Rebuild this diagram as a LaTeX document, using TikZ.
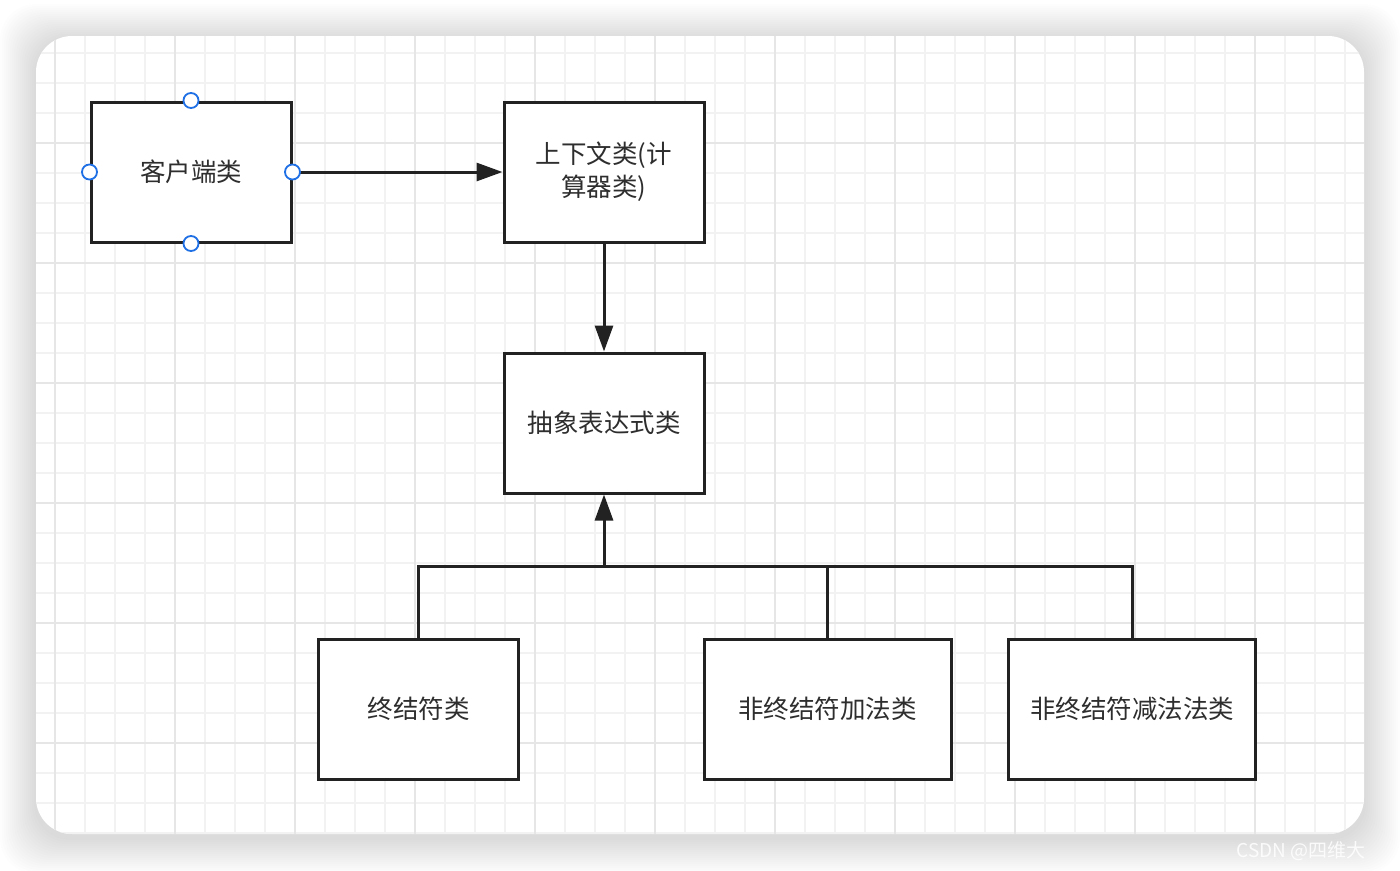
\documentclass[tikz,border=0pt]{standalone}
\usepackage{fontspec}
\usepackage{tikz}
\usetikzlibrary{arrows.meta,positioning}
\newfontfamily\cjk{Noto Sans CJK SC}
\definecolor{KInk}{HTML}{222222}
\definecolor{KText}{HTML}{2E2E2E}
\definecolor{KGrid}{HTML}{F2F2F2}
\definecolor{KGridMajor}{HTML}{E6E6E6}
\definecolor{KHandle}{HTML}{1F6FE5}

\begin{document}
\begin{tikzpicture}[
  x=1pt,y=-1pt,
  every node/.style={font=\cjk\fontsize{25.5}{33}\selectfont,text=KText},
  klass/.style={draw=KInk,line width=3pt,fill=white,
    minimum width=200pt,minimum height=140pt,inner sep=0pt,align=center},
  wideklass/.style={klass,minimum width=247pt},
  handle/.style={circle,draw=KHandle,line width=1.8pt,fill=white,
    minimum size=15pt,inner sep=0pt},
  arr/.style={-{Triangle[length=26pt,width=18pt]},line width=3pt,draw=KInk},
  wire/.style={line width=3pt,draw=KInk},
  gridmin/.style={draw=KGrid,line width=1.5pt},
  gridmaj/.style={draw=KGridMajor,line width=1.5pt}
]
  \useasboundingbox (0,0) rectangle (1400,870);
  \fill[white] (0,0) rectangle (1400,870);
  \foreach \s in {1,...,18}
    \fill[black,opacity=0.009,rounded corners=36pt]
      (36-2*\s,36-2*\s+4) rectangle (1364+2*\s,834+2*\s+4);
  \fill[white,rounded corners=36pt] (36,36) rectangle (1364,834);
  \begin{scope}
    \clip[rounded corners=36pt] (36,36) rectangle (1364,834);
    \foreach \gx in {55,85,...,1345}
      \draw[gridmin] (\gx,36) -- (\gx,834);
    \foreach \gy in {53,83,...,833}
      \draw[gridmin] (36,\gy) -- (1364,\gy);
    \foreach \gx in {55,175,...,1345}
      \draw[gridmaj] (\gx,36) -- (\gx,834);
    \foreach \gy in {143,263,...,833}
      \draw[gridmaj] (36,\gy) -- (1364,\gy);
  \end{scope}

  \node[klass] (client) at (191,172) {客户端类};
  \node[klass] (context) at (604,172) {上下文类(计\\算器类)};
  \node[klass] (absexpr) at (604,423) {抽象表达式类};
  \node[klass] (terminal) at (418.5,709) {终结符类};
  \node[wideklass] (addexpr) at (827.5,709) {非终结符加法类};
  \node[wideklass] (subexpr) at (1132,709) {非终结符减法法类};
  \coordinate (bus) at (604,566);

  \draw[arr] (client.east) -- (context.west);
  \draw[arr] (context.south) -- (absexpr.north);
  \draw[wire] (terminal.north) -- (terminal.north |- bus)
    -- (subexpr.north |- bus) -- (subexpr.north);
  \draw[wire] (addexpr.north) -- (addexpr.north |- bus);
  \draw[arr] (bus) -- (absexpr.south);

  \node[handle] (client-n) at (client.north) {};
  \node[handle] (client-s) at (client.south) {};
  \node[handle] (client-w) at (client.west) {};
  \node[handle] (client-e) at (client.east) {};

  \node[font=\cjk\fontsize{19}{21}\selectfont,text=white,opacity=0.85,
    anchor=west] (mark) at (1233,851) {CSDN @四维大};
\end{tikzpicture}
\end{document}
